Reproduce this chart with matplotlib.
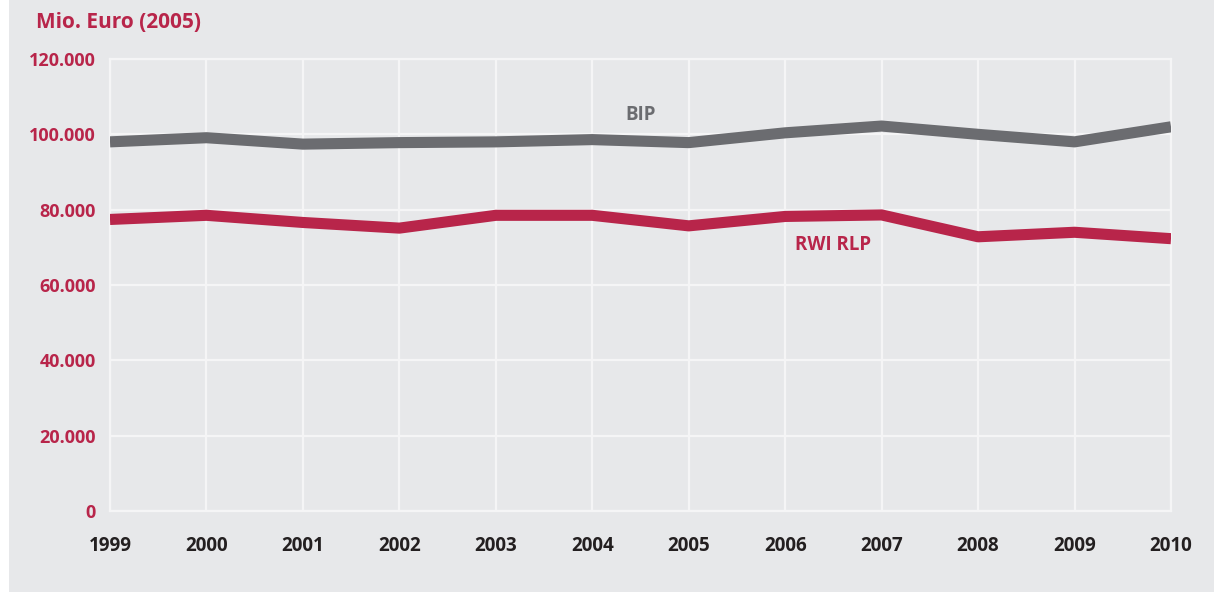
import matplotlib.pyplot as plt
from matplotlib.patches import Rectangle

# Jahre und Werte in Mio. Euro (Preise 2005)
jahre = [1999, 2000, 2001, 2002, 2003, 2004, 2005, 2006, 2007, 2008, 2009, 2010]
bip = [98000, 99100, 97400, 97800, 98000, 98600, 97800, 100400, 102200, 100000, 98000, 102000]
rwi_rlp = [77400, 78500, 76600, 75100, 78500, 78500, 75700, 78200, 78600, 72800, 74000, 72300]
y_ticks = [0, 20000, 40000, 60000, 80000, 100000, 120000]

rot = '#b8254a'
grau = '#6b6c70'
hintergrund = '#e7e8ea'
gitter = '#f5f5f6'

plt.rcParams['font.family'] = ['Open Sans', 'DejaVu Sans']

fig = plt.figure(figsize=(12.14, 5.92), dpi=100)
fig.patch.set_facecolor('white')
fig.patches.append(Rectangle((9 / 1214, 0), 1, 1, transform=fig.transFigure,
                             facecolor=hintergrund, edgecolor='none', zorder=-10))

ax = fig.add_axes([110 / 1214, 1 - 511 / 592, (1171 - 110) / 1214, (511 - 59) / 592])
ax.set_facecolor(hintergrund)

ax.plot(jahre, bip, color=grau, linewidth=8, solid_capstyle='butt', zorder=3)
ax.plot(jahre, rwi_rlp, color=rot, linewidth=8, solid_capstyle='butt', zorder=3)

ax.set_xlim(jahre[0], jahre[-1])
ax.set_ylim(0, 120000)
ax.set_xticks(jahre)
ax.set_yticks(y_ticks)
ax.set_yticklabels([f'{v:,.0f}'.replace(',', '.') for v in y_ticks])

ax.grid(True, color=gitter, linewidth=1.6, zorder=1)
for s in ax.spines.values():
    s.set_color(gitter)
    s.set_linewidth(1.6)

ax.tick_params(axis='both', length=0)
ax.tick_params(axis='y', pad=10, labelcolor=rot, labelsize=13)
ax.tick_params(axis='x', pad=18, labelcolor='#231f20', labelsize=13.5)
for lbl in ax.get_xticklabels() + ax.get_yticklabels():
    lbl.set_fontweight('bold')

ax.text(2004.5, 105200, 'BIP', color=grau, fontsize=13.5, fontweight='bold',
        ha='center', va='center')
ax.text(2006.5, 70600, 'RWI RLP', color=rot, fontsize=13.5, fontweight='bold',
        ha='center', va='center')

fig.text(36 / 1214, 1 - 22 / 592, 'Mio. Euro (2005)', color=rot, fontsize=15,
         fontweight='bold', ha='left', va='center')

plt.savefig('out.png', dpi=100)
